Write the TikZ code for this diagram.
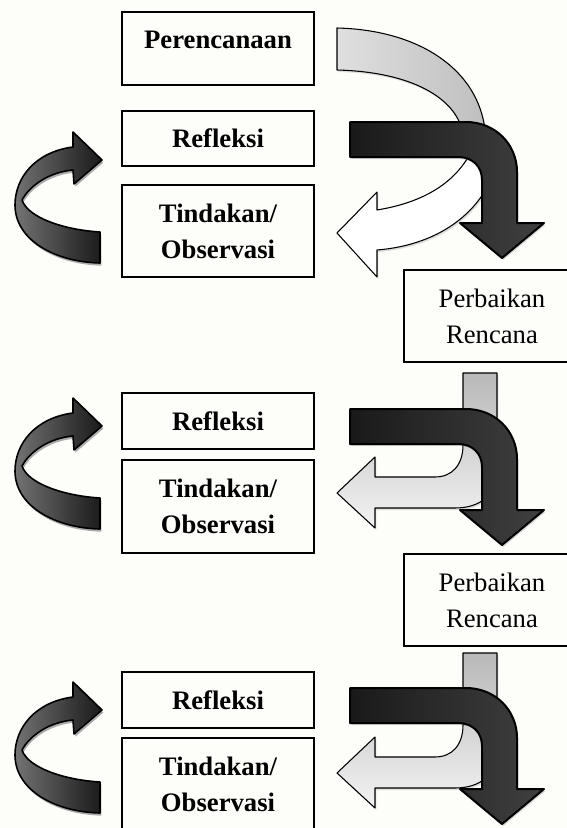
\documentclass[tikz,border=0pt]{standalone}
\usepackage{fontspec}
\setmainfont{Liberation Serif}
\usetikzlibrary{shadows}
\definecolor{bgpaper}{RGB}{253,253,250}

\begin{document}
\begin{tikzpicture}[x=0.75pt,y=-0.75pt,
  font=\fontsize{20}{27}\selectfont,
  box/.style={draw,line width=0.9pt,minimum width=144pt,inner sep=0pt,align=center,
    font=\fontsize{20}{27}\selectfont\bfseries},
  fixbox/.style={draw,line width=0.9pt,minimum width=132pt,minimum height=69pt,inner sep=0pt,align=center},
  darkarrow/.style={draw,line width=1.5pt,line join=round,left color=black!90,middle color=black!50,right color=black!75,
    drop shadow={opacity=0.3,shadow xshift=1pt,shadow yshift=-1.5pt}},
  looparrow/.style={draw,line width=1.2pt,line join=round,left color=black!55,right color=black!90,
    general shadow={fill=gray!65,shadow xshift=1pt,shadow yshift=-2pt}},
  lightarrow/.style={draw,line width=0.8pt,line join=round,top color=gray!55,bottom color=gray!10,
    drop shadow={opacity=0.25,shadow xshift=1pt,shadow yshift=-1.5pt}}]
\useasboundingbox (0,0) rectangle (567,828);
\fill[bgpaper] (0,0) rectangle (567,828);

% first cycle
\node[box,minimum height=54.75pt,text height=14pt,text depth=14pt] (plan) at (218,48.5) {Perencanaan};
\node[box,minimum height=41.25pt] (refl1) at (218,138.5) {Refleksi};
\node[box,minimum height=69pt] (act1) at (218,231) {Tindakan/\\Observasi};
\node[fixbox] (fix1) at (492,316) {Perbaikan\\Rencana};

\draw[lightarrow,left color=gray!25,right color=gray!50] (337,28) .. controls (420,30) and (478,70) .. (485,130)
  -- (462,130) .. controls (455,100) and (415,72) .. (337,70) -- cycle;
\draw[lightarrow,top color=white,bottom color=white] (337,233) -- (377,192) -- (377,210)
  .. controls (420,203) and (455,185) .. (472,150) -- (500,150)
  .. controls (490,210) and (440,245) .. (377,250) -- (377,277) -- cycle;
\draw[darkarrow] (350,122) -- (466,122) .. controls (495,122) and (517,144) .. (517,172) -- (517,223)
  -- (544,223) -- (502,258) -- (460,223) -- (482,223) -- (482,180)
  .. controls (482,167) and (473,157) .. (458,157) -- (350,157) -- cycle;
\draw[looparrow] (102,160) -- (73,132) -- (73,147) .. controls (35,152) and (15,178) .. (15,205)
  .. controls (15,240) and (55,262) .. (100,263) -- (100,232)
  .. controls (65,230) and (28,218) .. (22,200) .. controls (30,185) and (50,172) .. (73,170)
  -- (74,184) -- cycle;

% second cycle
\node[box,minimum height=42pt] (refl2) at (218,421) {Refleksi};
\node[box,minimum height=69.75pt] (act2) at (218,506.5) {Tindakan/\\Observasi};
\node[fixbox] (fix2) at (492,600) {Perbaikan\\Rencana};

\draw[lightarrow] (463,373) -- (497,373) -- (497,470) .. controls (497,495) and (480,508) .. (455,508)
  -- (375,508) -- (375,528) -- (337,493) -- (375,457) -- (375,477) -- (435,477)
  .. controls (452,477) and (463,465) .. (463,445) -- cycle;
\draw[darkarrow] (350,409) -- (466,409) .. controls (495,409) and (517,431) .. (517,459) -- (517,510)
  -- (544,510) -- (502,545) -- (460,510) -- (482,510) -- (482,467)
  .. controls (482,454) and (473,444) .. (458,444) -- (350,444) -- cycle;
\draw[looparrow] (102,426) -- (73,398) -- (73,413) .. controls (35,418) and (15,444) .. (15,471)
  .. controls (15,506) and (55,528) .. (100,529) -- (100,498)
  .. controls (65,496) and (28,484) .. (22,466) .. controls (30,451) and (50,438) .. (73,436)
  -- (74,450) -- cycle;

% third cycle
\node[box,minimum height=42pt] (refl3) at (218,700) {Refleksi};
\node[box,minimum height=69.75pt] (act3) at (218,784.5) {Tindakan/\\Observasi};

\draw[lightarrow] (463,653) -- (497,653) -- (497,750) .. controls (497,775) and (480,788) .. (455,788)
  -- (375,788) -- (375,808) -- (337,773) -- (375,737) -- (375,757) -- (435,757)
  .. controls (452,757) and (463,745) .. (463,725) -- cycle;
\draw[darkarrow] (350,688) -- (466,688) .. controls (495,688) and (517,710) .. (517,738) -- (517,789)
  -- (544,789) -- (502,824) -- (460,789) -- (482,789) -- (482,746)
  .. controls (482,733) and (473,723) .. (458,723) -- (350,723) -- cycle;
\draw[looparrow] (102,710) -- (73,682) -- (73,697) .. controls (35,702) and (15,728) .. (15,755)
  .. controls (15,790) and (55,812) .. (100,813) -- (100,782)
  .. controls (65,780) and (28,768) .. (22,750) .. controls (30,735) and (50,722) .. (73,720)
  -- (74,734) -- cycle;
\end{tikzpicture}
\end{document}
